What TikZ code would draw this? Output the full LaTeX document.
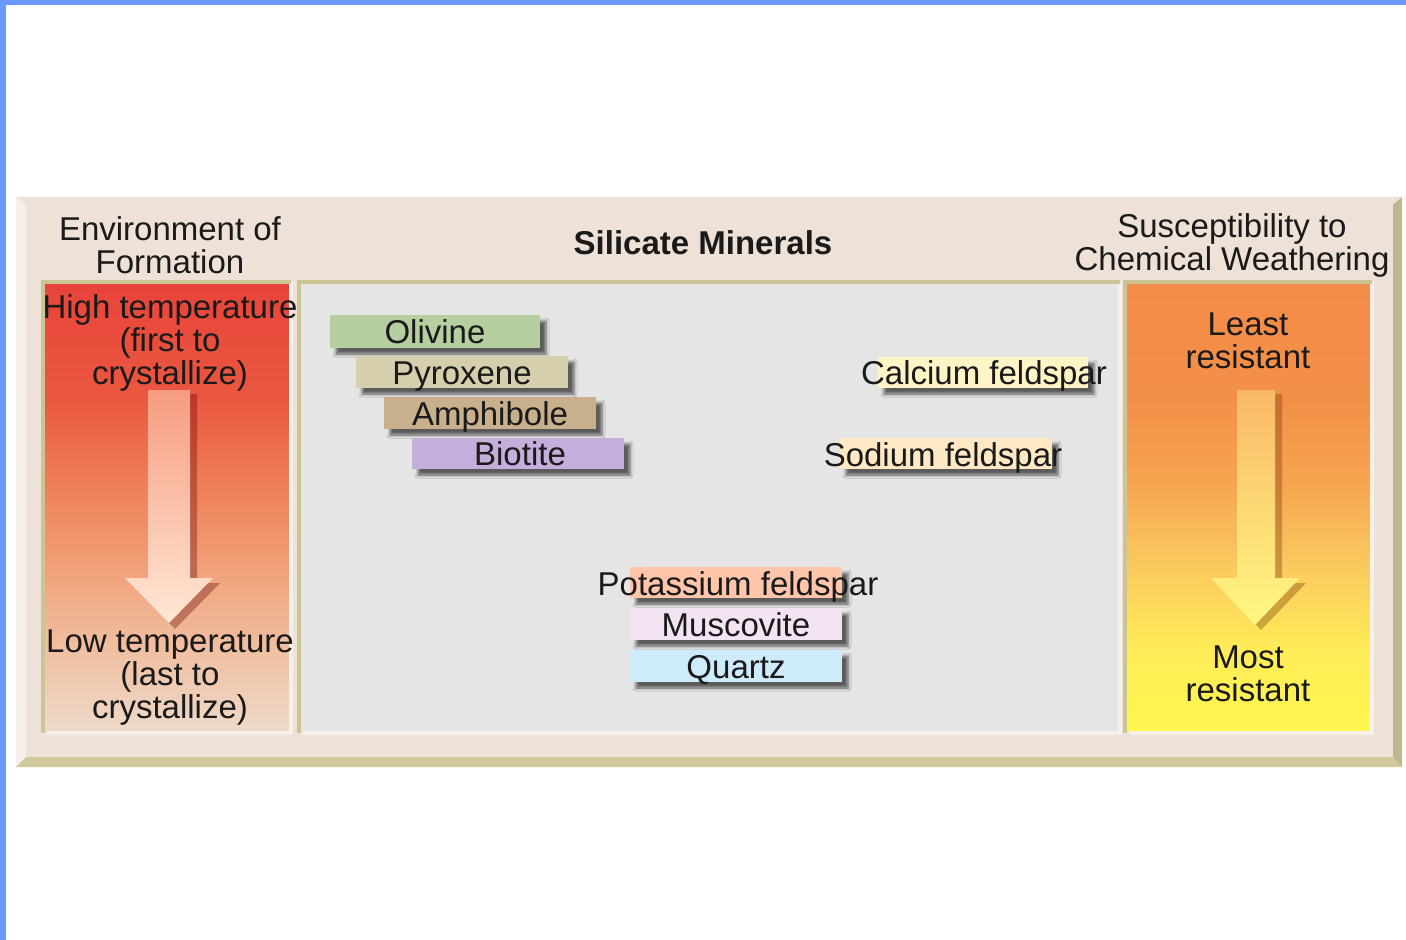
\documentclass[tikz,border=0pt]{standalone}
\usepackage{fontspec}
\setmainfont{Liberation Sans}
\usetikzlibrary{shadows.blur}
\definecolor{bluebar}{HTML}{6A98FF}
\definecolor{framebg}{HTML}{EEE2D8}
\definecolor{oliveband}{HTML}{CFC99B}
\definecolor{oliveline}{HTML}{CBC596}
\definecolor{lightedge}{HTML}{F5F1EA}
\definecolor{midgray}{HTML}{E5E5E5}
\definecolor{txt}{HTML}{1A1A1A}
\definecolor{cOlivine}{HTML}{B5CFA0}
\definecolor{cPyroxene}{HTML}{D5CFAE}
\definecolor{cAmphibole}{HTML}{C9B08C}
\definecolor{cBiotite}{HTML}{C4AEDC}
\definecolor{cCalcium}{HTML}{FFF4C6}
\definecolor{cSodium}{HTML}{FFE8C4}
\definecolor{cPotassium}{HTML}{FFC6AC}
\definecolor{cMuscovite}{HTML}{F2E4F2}
\definecolor{cQuartz}{HTML}{CDEBFA}
\pgfdeclareverticalshading{tempgrad}{100bp}{%
  color(0bp)=(rgb,255:red,238;green,218;blue,202);
  color(25bp)=(rgb,255:red,238;green,218;blue,202);
  color(34bp)=(rgb,255:red,240;green,192;blue,162);
  color(44bp)=(rgb,255:red,241;green,158;blue,118);
  color(53bp)=(rgb,255:red,238;green,126;blue,86);
  color(62bp)=(rgb,255:red,234;green,88;blue,64);
  color(75bp)=(rgb,255:red,232;green,68;blue,58);
  color(100bp)=(rgb,255:red,232;green,68;blue,58)}
\pgfdeclareverticalshading{weathgrad}{100bp}{%
  color(0bp)=(rgb,255:red,255;green,246;blue,80);
  color(25bp)=(rgb,255:red,255;green,246;blue,80);
  color(34bp)=(rgb,255:red,255;green,236;blue,88);
  color(44bp)=(rgb,255:red,250;green,200;blue,94);
  color(53bp)=(rgb,255:red,246;green,164;blue,80);
  color(62bp)=(rgb,255:red,243;green,144;blue,72);
  color(75bp)=(rgb,255:red,243;green,140;blue,72);
  color(100bp)=(rgb,255:red,243;green,140;blue,72)}
\tikzset{
  bigtext/.style={font=\fontsize{33}{33}\selectfont, text=txt, align=center, inner sep=0pt},
  panel/.style={inner sep=0pt, draw=none},
  bevdark/.style={oliveline, line width=4pt},
  bevlight/.style={lightedge, line width=4pt},
  mbox/.style={minimum width=212pt, minimum height=32pt, inner sep=0pt,
    blur shadow={shadow xshift=6pt, shadow yshift=-6pt, shadow blur radius=3pt, shadow opacity=60}},
  mtext/.style={font=\fontsize{33}{33}\selectfont, text=txt, inner sep=0pt, anchor=base}
}
\begin{document}
\begin{tikzpicture}[x=1pt,y=-1pt]
\useasboundingbox (0,0) rectangle (1406,940);
\fill[white] (0,0) rectangle (1406,940);
% blue page edges
\fill[bluebar] (0,0) rectangle (1406,5);
\fill[bluebar] (0,0) rectangle (6,940);

% outer frame
\fill[framebg] (16,197) rectangle (1402,767);
\fill[lightedge] (16,197) -- (26,205) -- (26,757) -- (16,767) -- cycle;
\fill[oliveband] (16,767) -- (26,757) -- (1393,757) -- (1402,767) -- cycle;
\shade[left color=oliveband!90!black, right color=oliveband!80!gray] (1393,205) -- (1402,197) -- (1402,767) -- (1393,757) -- cycle;

% panels
\node[panel, minimum width=244pt, minimum height=447pt, anchor=north west, shading=tempgrad] (lp) at (45,284) {};
\node[panel, minimum width=817pt, minimum height=447pt, anchor=north west, fill=midgray] (mp) at (301,284) {};
\node[panel, minimum width=243pt, minimum height=447pt, anchor=north west, shading=weathgrad] (rp) at (1127,284) {};

\foreach \p in {lp,mp,rp}{
  \draw[bevlight] ([xshift=2pt,yshift=-2pt]\p.south west) -- ([xshift=2pt,yshift=-2pt]\p.south east) -- ([xshift=2pt,yshift=2pt]\p.north east);
  \draw[bevdark] ([xshift=-2pt,yshift=-2pt]\p.south west) -- ([xshift=-2pt,yshift=2pt]\p.north west) -- ([xshift=2pt,yshift=2pt]\p.north east);
}

% headers
\node[bigtext] (envh) at (170,245) {Environment of\\Formation};
\node[bigtext, font=\fontsize{33}{33}\selectfont\bfseries] (silh) at (703,243) {Silicate Minerals};
\node[bigtext] (susch) at (1232,245) {Susceptibility to\\Chemical Weathering};

% left arrow (shadow + body)
\fill[black!60!red, opacity=0.35] (155,394) -- (197,394) -- (197,583) -- (220,583) -- (175,629) -- (131,583) -- (155,583) -- cycle;
\shade[top color={rgb,255:red,246;green,156;blue,128}, bottom color={rgb,255:red,255;green,232;blue,214}]
  (148,390) -- (190,390) -- (190,578) -- (213,578) -- (169,623) -- (125,578) -- (148,578) -- cycle;

% right arrow (shadow + body)
\fill[black!55!orange, opacity=0.35] (1243,394) -- (1282,394) -- (1282,583) -- (1306,583) -- (1261,630) -- (1217,583) -- (1243,583) -- cycle;
\shade[top color={rgb,255:red,249;green,184;blue,104}, bottom color={rgb,255:red,255;green,248;blue,130}]
  (1237,390) -- (1275,390) -- (1275,578) -- (1300,578) -- (1255,625) -- (1211,578) -- (1237,578) -- cycle;

% left panel texts
\node[bigtext] (hight) at (170,343) {High temperature\\(first to\\crystallize)};
\node[bigtext] (lowt) at (170,678) {Low temperature\\(last to\\crystallize)};

% right panel texts
\node[bigtext] (least) at (1248,341) {Least\\resistant};
\node[bigtext] (most) at (1248,674) {Most\\resistant};

% mineral boxes
\node[mbox, fill=cOlivine, minimum width=210pt, minimum height=33pt] (olv) at (435,331.5) {};
\node[mtext] at ([yshift=-12pt]olv.center) {Olivine};
\node[mbox, fill=cPyroxene] (pyx) at (462,372) {};
\node[mtext] at ([yshift=-12pt]pyx.center) {Pyroxene};
\node[mbox, fill=cAmphibole] (amp) at (490,413) {};
\node[mtext] at ([yshift=-12pt]amp.center) {Amphibole};
\node[mbox, fill=cBiotite, minimum height=31pt] (bio) at (518,453.5) {};
\node[mtext] at ([xshift=2pt,yshift=-12pt]bio.center) {Biotite};

\node[mbox, fill=cCalcium, minimum width=210pt, minimum height=31pt] (cal) at (983,372.5) {};
\node[mtext] at ([xshift=1pt,yshift=-12pt]cal.center) {Calcium feldspar};
\node[mbox, fill=cSodium, minimum height=31pt] (sod) at (946,453.5) {};
\node[mtext] at ([xshift=-3pt,yshift=-13pt]sod.center) {Sodium feldspar};

\node[mbox, fill=cPotassium, minimum height=31pt] (pot) at (736,582.5) {};
\node[mtext] at ([xshift=2pt,yshift=-13pt]pot.center) {Potassium feldspar};
\node[mbox, fill=cMuscovite] (mus) at (736,624) {};
\node[mtext] at ([yshift=-12pt]mus.center) {Muscovite};
\node[mbox, fill=cQuartz] (qtz) at (736,666) {};
\node[mtext] at ([yshift=-12pt]qtz.center) {Quartz};
\end{tikzpicture}
\end{document}
